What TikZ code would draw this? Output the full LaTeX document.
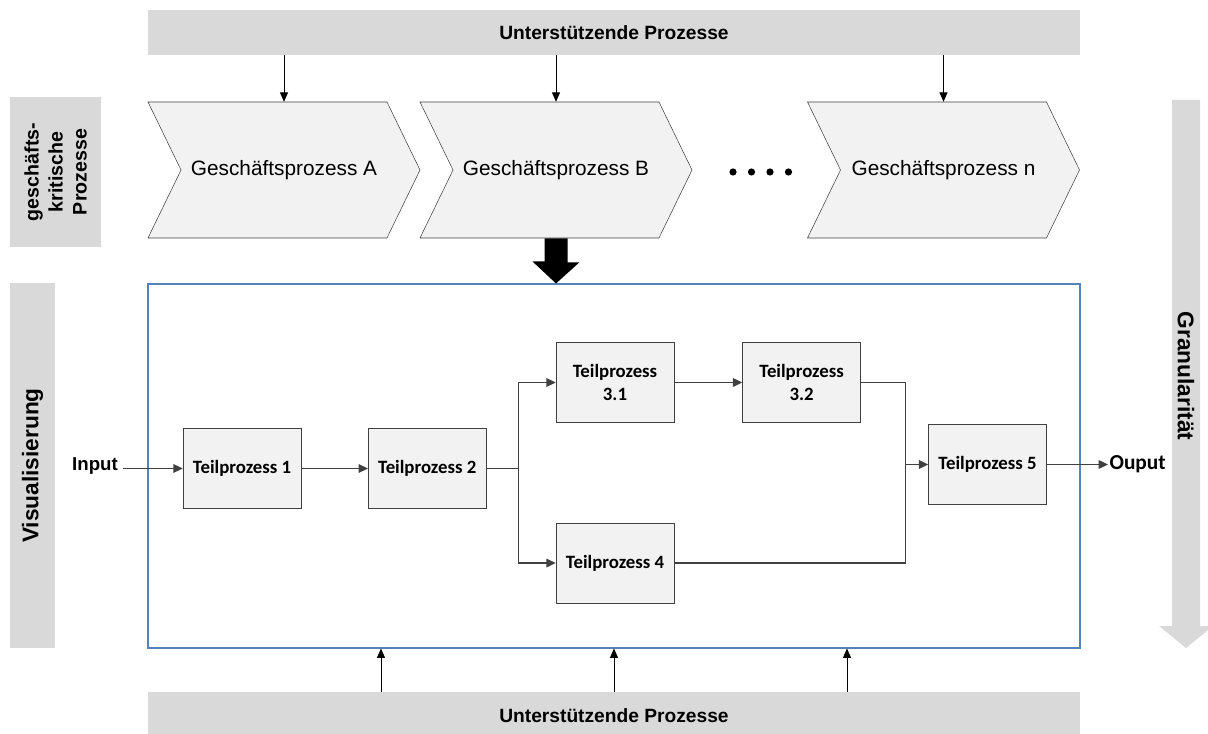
\documentclass[tikz,border=0pt]{standalone}
\usepackage{fontspec}
\setmainfont{Liberation Sans}
\newfontfamily\calibrifont{Carlito}
\usetikzlibrary{arrows.meta, shapes.symbols, positioning, calc}
\definecolor{bargray}{RGB}{217,217,217}
\definecolor{boxfill}{RGB}{242,242,242}
\definecolor{boxline}{RGB}{64,64,64}
\definecolor{framecolor}{RGB}{84,130,188}

\begin{document}
\begin{tikzpicture}[
    x=0.75pt, y=-0.75pt,
    node distance=50pt,
    bar/.style={fill=bargray, minimum width=699pt, inner sep=0pt,
                font=\fontsize{14.4}{17}\selectfont\bfseries},
    sidebox/.style={fill=bargray, inner sep=0pt, align=center},
    chevron/.style={signal, signal from=west, signal to=east,
                signal pointer angle=128.2, draw=boxline, fill=boxfill,
                minimum width=204pt, minimum height=102pt, inner sep=0pt,
                font=\fontsize{15.6}{18}\selectfont},
    tp/.style={draw=boxline, fill=boxfill, minimum width=88.5pt,
                minimum height=60pt, inner sep=0pt, align=center,
                font=\calibrifont\fontsize{14.1}{17}\selectfont\bfseries},
    line/.style={draw=boxline, line width=0.9pt},
    arr/.style={line, -{Triangle[length=7pt, width=6.5pt]}},
    supp/.style={-{Triangle[length=7pt, width=6pt]}, line width=0.6pt},
    sidetext/.style={font=\fontsize{17}{20}\selectfont\bfseries}
  ]
  \useasboundingbox (0,0) rectangle (1208,734);
  % Unterstuetzende Prozesse
  \node[bar, minimum height=33.75pt] (topbar) at (614,32.5) {Unterstützende Prozesse};
  \node[bar, minimum height=36pt] (botbar) at (614,716) {Unterstützende Prozesse};
  % Side labels
  \node[sidebox, minimum width=68.25pt, minimum height=112.5pt] (critbox) at (55.5,172) {};
  \node[rotate=90, align=center, font=\fontsize{14.7}{18}\selectfont\bfseries] (crittext) at (critbox) {geschäfts-\\kritische\\Prozesse};
  \node[sidebox, minimum width=33.75pt, minimum height=273.75pt] (visbox) at (32.5,465.5) {};
  \node[sidetext, rotate=90] (vistext) at (visbox) {Visualisierung};
  % Granularitaet
  \fill[bargray] (1172,100) -- (1200,100) -- (1200,626) -- (1213,626)
    -- (1186,648) -- (1159,626) -- (1172,626) -- cycle;
  \node[sidetext, rotate=-90] (gran) at (1186,376) {Granularität};
  % Geschaeftsprozesse
  \node[chevron] (chA) at (284,170) {Geschäftsprozess A};
  \node[chevron] (chB) at (556,170) {Geschäftsprozess B};
  \node[chevron] (chN) at (943.5,170) {Geschäftsprozess n};
  \foreach \i in {0,...,3}
    \fill (733+18.5*\i,172) circle (3.6);
  \foreach \ch in {chA, chB, chN}
    \draw[supp] (\ch.north |- topbar.south) -- (\ch.north);
  % Visualisierung frame
  \node[draw=framecolor, line width=0.8pt, minimum width=699pt, minimum height=273pt, inner sep=0pt] (frame) at (614,466) {};
  \fill (chB.south) ++(-11.5,0) -- ++(23,0) -- ++(0,24) -- ++(12,0)
    -- (chB.south |- frame.north) -- ++(-23.5,-22) -- ++(12,0) -- cycle;
  \foreach \dx in {-233,0,233}
    \draw[supp] ([xshift=\dx*0.75pt]botbar.north) -- ([xshift=\dx*0.75pt]frame.south);
  % Teilprozesse
  \node[tp] (tp1) at (242,468.5) {Teilprozess 1};
  \node[tp, right=50pt of tp1] (tp2) {Teilprozess 2};
  \node[tp] (tp31) at (615,382.5) {Teilprozess\\3.1};
  \node[tp, right=51pt of tp31] (tp32) {Teilprozess\\3.2};
  \node[tp, below=75pt of tp31] (tp4) {Teilprozess 4};
  \node[tp] (tp5) at (987.5,464.5) {Teilprozess 5};
  \node[font=\fontsize{14}{17}\selectfont\bfseries] (input) at (95,466.5) {Input};
  \node[anchor=west, inner sep=1pt, font=\calibrifont\fontsize{16}{19}\selectfont\bfseries] (output) at (1108,464.5) {Ouput};
  \coordinate[right=24pt of tp2.east] (split);
  \coordinate[left=17pt of tp5.west] (merge);
  % Arrows
  \draw[arr] (input.east |- tp1) -- (tp1);
  \draw[arr] (tp1) -- (tp2);
  \draw[line] (tp2) -- (split);
  \draw[arr] (split) |- (tp31);
  \draw[arr] (split) |- (tp4);
  \draw[arr] (tp31) -- (tp32);
  \draw[line] (tp32) -| (merge);
  \draw[line] (tp4) -| (merge);
  \draw[arr] (merge) -- (tp5);
  \draw[arr] (tp5) -- (output.west |- tp5);
\end{tikzpicture}
\end{document}
